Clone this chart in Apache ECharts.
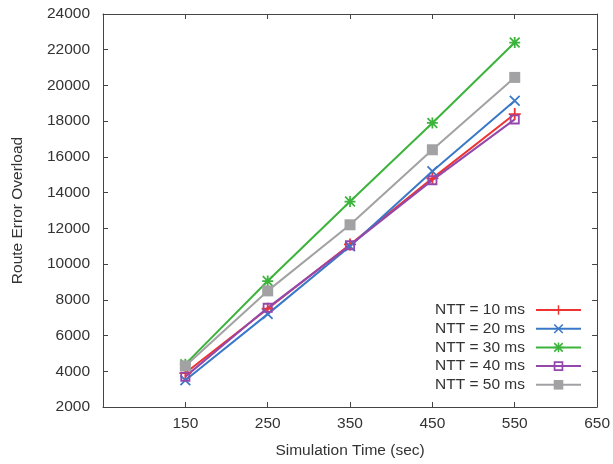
<!DOCTYPE html>
<html>
<head>
<meta charset="utf-8">
<script src="https://cdn.jsdelivr.net/npm/echarts@6/dist/echarts.min.js"></script>
<style>
  html, body { margin: 0; padding: 0; background: #fff; }
  #chart { width: 613px; height: 464px; }
</style>
</head>
<body>
<div id="chart"></div>
<script>
// simulation times (sec)
const times = [150, 250, 350, 450, 550];

// route error overload per NTT value
const ntt10 = [3900, 7500, 11100, 14800, 18400];
const ntt20 = [3500, 7200, 11000, 15200, 19150];
const ntt30 = [4400, 9050, 13500, 17900, 22400];
const ntt40 = [3700, 7550, 11050, 14700, 18100];
const ntt50 = [4300, 8500, 12200, 16400, 20450];

const names = ['NTT = 10 ms', 'NTT = 20 ms', 'NTT = 30 ms', 'NTT = 40 ms', 'NTT = 50 ms'];

// marker shapes (filled outlines, gnuplot style)
const plusPath = 'path://M5.1,0H6.9V5.1H12V6.9H6.9V12H5.1V6.9H0V5.1H5.1Z';
const crossPath = 'path://M0.64,-0.64L10.64,9.36L9.36,10.64L-0.64,0.64Z' +
  'M10.64,0.64L0.64,10.64L-0.64,9.36L9.36,-0.64Z';
const starPath = 'path://M0.64,-0.64L10.64,9.36L9.36,10.64L-0.64,0.64Z' +
  'M10.64,0.64L0.64,10.64L-0.64,9.36L9.36,-0.64Z' +
  'M4.1,-0.64L5.9,-0.64L5.9,10.64L4.1,10.64Z' +
  'M-0.64,4.1L10.64,4.1L10.64,5.9L-0.64,5.9Z';
const boxPath = 'path://M0,0H10V10H0ZM1.8,1.8V8.2H8.2V1.8Z';

function pairs(vals) {
  return times.map((t, i) => [t, vals[i]]);
}

function mkSeries(name, vals, color, symbol, size) {
  return {
    name: name,
    type: 'line',
    data: pairs(vals),
    symbol: symbol,
    symbolSize: size,
    showAllSymbol: true,
    lineStyle: { color: color, width: 2 },
    itemStyle: { color: color, borderWidth: 0 },
    emphasis: { disabled: true },
    animation: false
  };
}

const axisCol = '#444';
const labelFont = { fontFamily: 'Liberation Sans', fontSize: 15.5, color: '#333' };

const chart = echarts.init(document.getElementById('chart'));
chart.setOption({
  backgroundColor: '#fff',
  animation: false,
  grid: { left: 103, right: 14, top: 14, bottom: 57 },
  legend: {
    orient: 'vertical',
    right: 26,
    top: 297,
    align: 'right',
    itemWidth: 45,
    itemHeight: 12,
    itemGap: 2.7,
    textStyle: Object.assign({ padding: [0, 6, 0, 0] }, labelFont),
    data: names
  },
  xAxis: [{
    type: 'value',
    min: 50,
    max: 650,
    interval: 100,
    name: 'Simulation Time (sec)',
    nameLocation: 'middle',
    nameGap: 36,
    nameTextStyle: Object.assign({}, labelFont),
    axisLine: { lineStyle: { color: axisCol, width: 1 } },
    axisTick: { inside: true, length: 5, lineStyle: { color: axisCol } },
    axisLabel: Object.assign({ margin: 9, formatter: v => (v === 50 ? '' : String(v)) }, labelFont),
    splitLine: { show: false }
  }, {
    type: 'value',
    position: 'top',
    min: 50,
    max: 650,
    interval: 100,
    axisLine: { lineStyle: { color: axisCol, width: 1 } },
    axisTick: { inside: true, length: 5, lineStyle: { color: axisCol } },
    axisLabel: { show: false },
    splitLine: { show: false }
  }],
  yAxis: [{
    type: 'value',
    min: 2000,
    max: 24000,
    interval: 2000,
    name: 'Route Error Overload',
    nameLocation: 'middle',
    nameGap: 77,
    nameTextStyle: Object.assign({}, labelFont),
    axisLine: { show: true, lineStyle: { color: axisCol, width: 1 } },
    axisTick: { show: true, inside: true, length: 5, lineStyle: { color: axisCol } },
    axisLabel: Object.assign({ margin: 13, formatter: v => String(v) }, labelFont),
    splitLine: { show: false }
  }, {
    type: 'value',
    position: 'right',
    min: 2000,
    max: 24000,
    interval: 2000,
    axisLine: { show: true, lineStyle: { color: axisCol, width: 1 } },
    axisTick: { show: true, inside: true, length: 5, lineStyle: { color: axisCol } },
    axisLabel: { show: false },
    splitLine: { show: false }
  }],
  series: [
    mkSeries(names[0], ntt10, '#ee3333', plusPath, 12),
    mkSeries(names[1], ntt20, '#3a78c8', crossPath, 11),
    mkSeries(names[2], ntt30, '#3cb43c', starPath, 11),
    mkSeries(names[3], ntt40, '#9448ac', boxPath, 10),
    mkSeries(names[4], ntt50, '#a2a2a4', 'rect', 11)
  ]
});
</script>
</body>
</html>
